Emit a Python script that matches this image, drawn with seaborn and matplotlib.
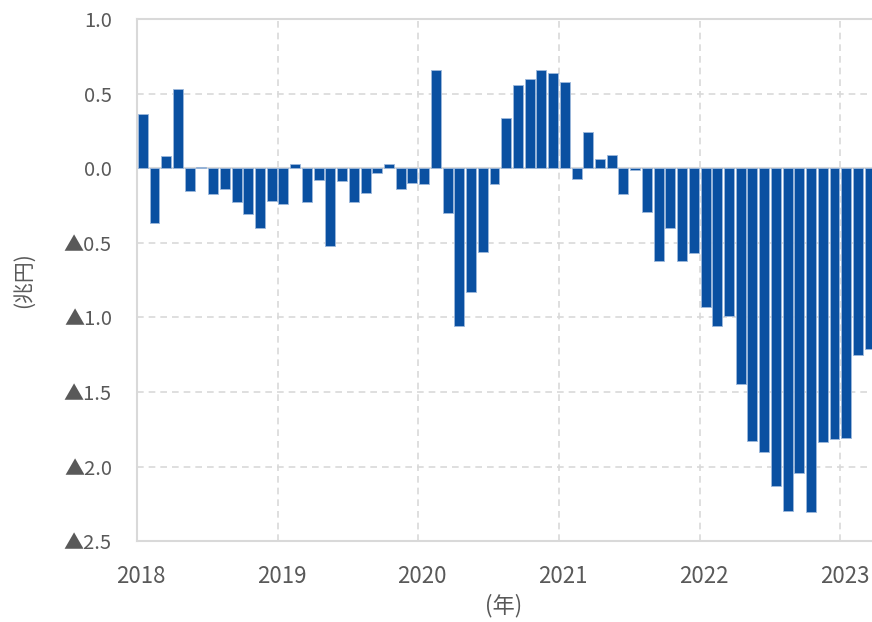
import matplotlib
matplotlib.use("Agg")
import matplotlib.pyplot as plt
import matplotlib.transforms as mtransforms
import pandas as pd
import seaborn as sns

BAR_COLOR = "#0A50A1"
GRID_COLOR = "#D9D9D9"
TEXT_COLOR = "#595959"

years = [2018, 2019, 2020, 2021, 2022, 2023]
months = pd.date_range("2018-01", "2023-03", freq="MS")
# monthly balance (trillion yen), Jan 2018 - Mar 2023
values = [
    0.36, -0.37, 0.08, 0.53, -0.15, 0.005, -0.17, -0.14, -0.23, -0.31, -0.40, -0.22,
    -0.24, 0.03, -0.23, -0.08, -0.52, -0.085, -0.23, -0.165, -0.03, 0.025, -0.14, -0.10,
    -0.105, 0.655, -0.30, -1.055, -0.83, -0.565, -0.105, 0.335, 0.555, 0.595, 0.66, 0.635,
    0.58, -0.075, 0.24, 0.06, 0.09, -0.17, -0.015, -0.295, -0.62, -0.40, -0.62, -0.57,
    -0.93, -1.06, -0.99, -1.45, -1.83, -1.90, -2.13, -2.295, -2.045, -2.305, -1.835, -1.815,
    -1.81, -1.255, -1.215,
]
y_ticks = [1.0, 0.5, 0.0, -0.5, -1.0, -1.5, -2.0, -2.5]
y_tick_labels = ["1.0", "0.5", "0.0", "▲0.5", "▲1.0", "▲1.5", "▲2.0", "▲2.5"]

sns.set_style("white")
plt.rcParams["font.family"] = ["Noto Sans CJK JP", "DejaVu Sans"]

df = pd.DataFrame({"month": months.strftime("%Y-%m"), "value": values})

fig = plt.figure(figsize=(8.72, 6.22), dpi=100)
ax = fig.add_axes([0.157, 0.130, 0.843, 0.8395])

sns.barplot(
    data=df, x="month", y="value", color=BAR_COLOR, saturation=1,
    width=0.85, edgecolor="#9DB8DC", linewidth=0.6, ax=ax, zorder=3,
)

year_pos = [12 * i - 0.5 for i in range(len(years))]
ax.set_xticks(year_pos)
ax.set_xticklabels([str(y) for y in years])
ax.set_xlim(-0.5, 62.2)
ax.set_ylim(-2.5, 1.0)
ax.set_yticks(y_ticks)
ax.set_yticklabels(y_tick_labels)

for yv in y_ticks[1:-1]:
    if yv == 0:
        continue
    ax.axhline(yv, color=GRID_COLOR, linestyle=(0, (4, 3)), linewidth=1.2, zorder=1)
for xv in year_pos[1:]:
    ax.axvline(xv, color=GRID_COLOR, linestyle=(0, (4, 3)), linewidth=1.2, zorder=1)
ax.axhline(0, color=GRID_COLOR, linewidth=1.5, zorder=2)

for side in ["top", "bottom", "left"]:
    ax.spines[side].set_color(GRID_COLOR)
    ax.spines[side].set_linewidth(1.5)
ax.spines["right"].set_visible(False)

ax.tick_params(axis="both", length=0, colors=TEXT_COLOR)
ax.tick_params(axis="y", labelsize=14.5, pad=18)
ax.tick_params(axis="x", labelsize=16, pad=17)
# year labels sit a little right of the gridline
shift = mtransforms.ScaledTranslation(4 / 100, 0, fig.dpi_scale_trans)
for label in ax.get_xticklabels():
    label.set_transform(label.get_transform() + shift)
ax.set_xlabel("")
ax.set_ylabel("")
fig.text(504 / 872, 1 - 606 / 622, "(年)", fontsize=16, color=TEXT_COLOR,
         ha="center", va="center")
fig.text(24 / 872, 1 - 280 / 622, "(兆円)", fontsize=15, color=TEXT_COLOR,
         rotation=90, ha="center", va="center")

fig.savefig("out.png", dpi=100)
